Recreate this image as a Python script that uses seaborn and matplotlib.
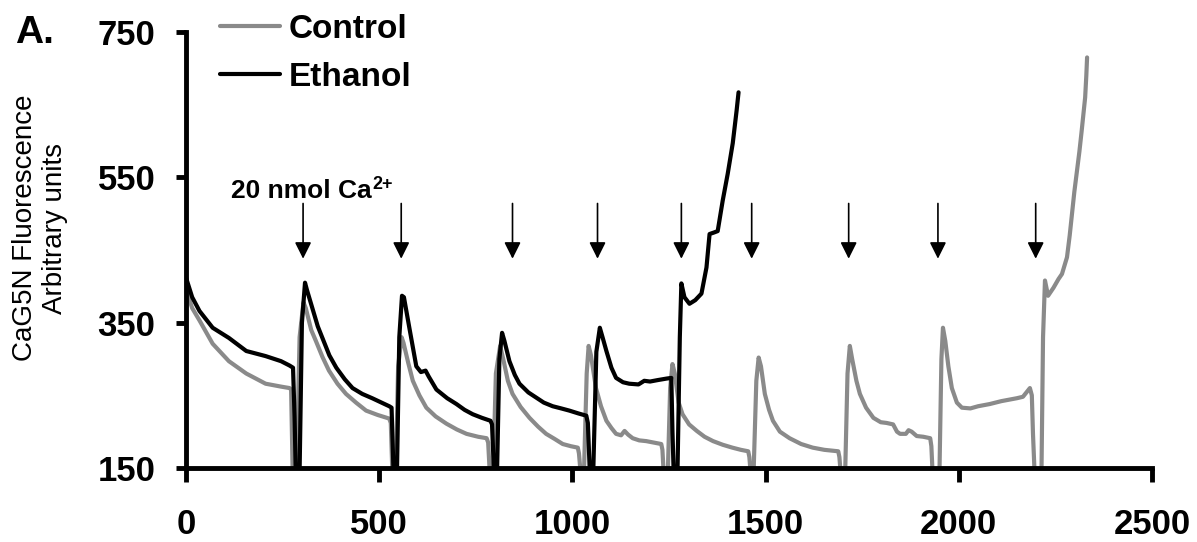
import numpy as np
import pandas as pd
import matplotlib
matplotlib.use("Agg")
import matplotlib.pyplot as plt
import seaborn as sns

# ---------------- data ----------------
ethanol_time = [0, 16, 35, 69, 111, 156, 206, 246, 268, 277, 281, 284, 294, 300, 308,
                313, 327, 341, 353, 371, 389, 411, 431, 456, 482, 506, 526, 532, 537, 546,
                552, 559, 564, 578, 596, 608, 620, 628, 648, 676, 700, 721, 742, 766, 788,
                792, 797, 805, 811, 818, 824, 837, 851, 863, 886, 906, 926, 949, 971, 992,
                1016, 1036, 1040, 1045, 1054, 1062, 1071, 1078, 1088, 1101, 1113, 1131, 1147,
                1171, 1186, 1201, 1221, 1243, 1256, 1259, 1262, 1272, 1278, 1282, 1290, 1303,
                1318, 1334, 1347, 1355, 1366, 1376, 1389, 1402, 1415, 1425, 1430]
ethanol_signal = [412, 385, 366, 343, 329, 311, 304, 297, 291, 288, 220, 145, 145, 350, 405,
                  395, 370, 345, 329, 305, 288, 272, 260, 252, 246, 240, 235, 233, 145, 145,
                  330, 387, 385, 343, 290, 282, 284, 276, 258, 246, 238, 230, 224, 219, 215,
                  210, 145, 145, 300, 336, 325, 297, 278, 266, 254, 247, 240, 235, 232, 229,
                  225, 222, 212, 145, 145, 310, 343, 330, 311, 288, 274, 268, 266,
                  265, 270, 269, 271, 273, 274, 200, 145, 145, 330, 404, 385, 376,
                  381, 390, 426, 472, 474, 476, 518, 555, 597, 642, 667]

control_time = [0, 16, 35, 69, 111, 156, 206, 246, 268, 272, 276, 286, 294, 304, 310,
                324, 336, 353, 370, 392, 414, 440, 466, 496, 526, 530, 534, 543, 549, 558,
                563, 575, 587, 604, 622, 646, 674, 701, 726, 756, 778, 782, 786, 795, 802,
                813, 821, 833, 845, 866, 889, 911, 932, 954, 975, 996, 1014, 1017, 1021, 1030,
                1037, 1042, 1048, 1061, 1074, 1088, 1101, 1113, 1126, 1135, 1144, 1156, 1173,
                1191, 1211, 1230, 1233, 1236, 1247, 1253, 1259, 1265, 1275, 1285, 1302, 1322,
                1342, 1364, 1389, 1414, 1436, 1455, 1458, 1461, 1469, 1476, 1482, 1488, 1498,
                1509, 1519, 1537, 1562, 1592, 1622, 1652, 1688, 1691, 1694, 1706, 1712, 1718,
                1724, 1735, 1744, 1760, 1779, 1798, 1813, 1830, 1840, 1848, 1863, 1870, 1878,
                1891, 1908, 1926, 1929, 1932, 1950, 1955, 1959, 1965, 1973, 1982, 1995, 2008,
                2030, 2050, 2080, 2110, 2130, 2150, 2166, 2184, 2189, 2192, 2196, 2214, 2218,
                2223, 2231, 2245, 2258, 2267, 2280, 2287, 2293, 2299, 2306, 2312, 2318, 2323,
                2327, 2330, 2332]
control_signal = [396, 370, 353, 321, 297, 280, 266, 262, 260, 258, 145, 145, 330, 378, 370,
                  340, 325, 303, 284, 266, 252, 240, 229, 223, 218, 212, 145, 145, 290, 330,
                  322, 295, 270, 250, 233, 221, 211, 203, 197, 193, 191, 185, 145, 145, 280,
                  318, 300, 270, 252, 234, 219, 207, 197, 190, 183, 180, 178, 170, 145, 145,
                  280, 318, 305, 260, 235, 215, 205, 197, 195, 201, 196, 191, 188,
                  187, 185, 183, 175, 145, 145, 260, 293, 280, 240, 224, 210, 201,
                  193, 187, 182, 178, 175, 173, 165, 145, 145, 270, 302, 290, 252,
                  230, 215, 200, 191, 183, 178, 175, 173, 165, 145, 145, 280, 318,
                  300, 270, 252, 233, 219, 213, 212, 210, 200, 197, 197, 202, 200,
                  194, 193, 191, 180, 145, 145, 300, 343, 325, 290, 260, 240, 233,
                  232, 235, 238, 242, 244, 246, 248, 260, 250, 197, 145, 145, 330,
                  408, 387, 398, 410, 417, 440, 470, 500, 530, 559, 585, 614, 640,
                  660, 690, 715]

addition_times = [303, 557, 845, 1065, 1282, 1464, 1715, 1946, 2199]
conditions = ["Control", "Ethanol"]
x_ticks = [0, 500, 1000, 1500, 2000, 2500]
y_ticks = [150, 350, 550, 750]

df = pd.concat([
    pd.DataFrame({"time": control_time, "signal": control_signal, "condition": "Control"}),
    pd.DataFrame({"time": ethanol_time, "signal": ethanol_signal, "condition": "Ethanol"}),
], ignore_index=True)

# ---------------- style ----------------
sns.set_theme(style="ticks")
plt.rcParams["font.family"] = ["Liberation Sans", "DejaVu Sans"]
plt.rcParams["text.color"] = "black"

GRAY = "#8a8a8a"
fig = plt.figure(figsize=(11.97, 5.42), dpi=100)
ax = fig.add_axes([186 / 1197, 1 - 468 / 542, 966 / 1197, 436 / 542])

sns.lineplot(data=df, x="time", y="signal", hue="condition", hue_order=conditions,
             palette=[GRAY, "black"], sort=False, estimator=None, linewidth=3.0, ax=ax)

ax.set_xlim(0, 2500)
ax.set_ylim(150, 750)
ax.set_xticks(x_ticks)
ax.set_yticks(y_ticks)
ax.set_xticklabels([str(t) for t in x_ticks], fontsize=25, fontweight="bold")
ax.set_yticklabels([str(t) for t in y_ticks], fontsize=25, fontweight="bold")
ax.set_xlabel("")
ax.set_ylabel("")
for s in ["top", "right"]:
    ax.spines[s].set_visible(False)
for s in ["left", "bottom"]:
    ax.spines[s].set_linewidth(3.5)
    ax.spines[s].set_color("black")
ax.tick_params(axis="x", direction="out", length=10, width=3.5, pad=19, colors="black")
ax.tick_params(axis="y", direction="out", length=7, width=3.5, pad=15, colors="black")

# arrows for Ca2+ additions
for t in addition_times:
    ax.annotate("", xy=(t, 438), xytext=(t, 514),
                arrowprops=dict(arrowstyle="-|>", color="black", lw=1.2,
                                mutation_scale=25, shrinkA=0, shrinkB=0))
main_txt = ax.text(117, 521, "20 nmol Ca", fontsize=19, fontweight="bold",
                   va="baseline", ha="left", color="black")
fig.canvas.draw()
bb = main_txt.get_window_extent(renderer=fig.canvas.get_renderer())
fig.text((bb.x1 + 1) / fig.bbox.width, (bb.y0 + 0.62 * bb.height) / fig.bbox.height,
         "2+", fontsize=13, fontweight="bold", va="baseline", ha="left", color="black")

# legend
handles, labels = ax.get_legend_handles_labels()
leg = ax.legend(handles, labels, loc="upper left",
                bbox_to_anchor=(220 / 1197, 1 - 14 / 542), bbox_transform=fig.transFigure,
                frameon=False, borderpad=0, borderaxespad=0, handlelength=1.8,
                handletextpad=0.25, labelspacing=0.5,
                prop={"size": 24, "weight": "bold"})
for line in leg.get_lines():
    line.set_linewidth(3.0)

# panel letter and y label
fig.text(15 / 1197, 1 - 43 / 542, "A.", fontsize=28, fontweight="bold", va="baseline")
fig.text(40 / 1197, 1 - 228 / 542, "CaG5N Fluorescence\nArbitrary units", fontsize=20,
         rotation=90, ha="center", va="center", multialignment="center", color="black")

fig.savefig("out.png", dpi=100)
